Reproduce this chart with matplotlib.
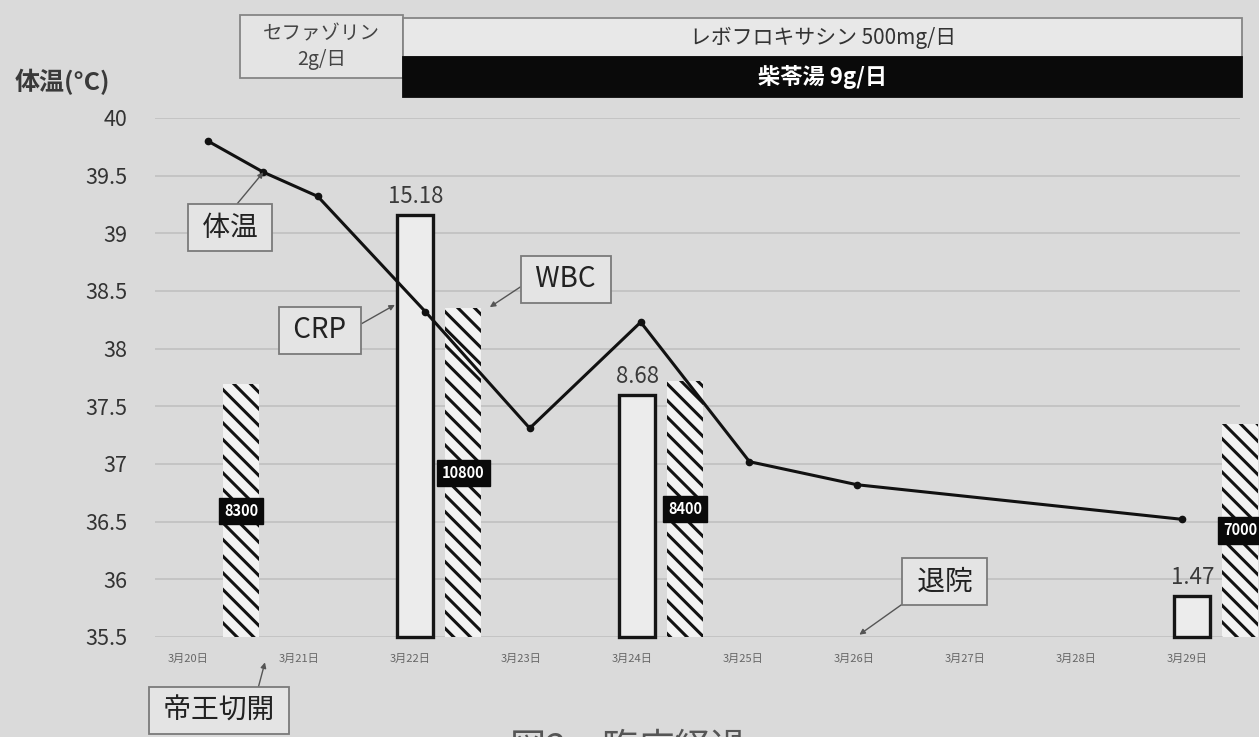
# =============================================================================
# plot.py — 臨床経過 (体温 / CRP / WBC) recreation
# =============================================================================

import matplotlib
matplotlib.use("Agg")
import matplotlib.pyplot as plt
from matplotlib.patches import Rectangle
from matplotlib.transforms import blended_transform_factory

plt.rcParams["font.family"] = ["Noto Sans CJK JP", "DejaVu Sans"]
plt.rcParams["hatch.linewidth"] = 2.2
plt.rcParams["hatch.color"] = "#111111"

# ─── Data ────────────────────────────────────────────────────────────────────

dates = ["3月20日", "3月21日", "3月22日", "3月23日", "3月24日",
         "3月25日", "3月26日", "3月27日", "3月28日", "3月29日"]

# body temperature (day index from 3/20, °C)
temp_day = [0.18, 0.68, 1.17, 2.14, 3.08, 4.08, 5.06, 6.03, 8.96]
temp_c = [39.8, 39.53, 39.32, 38.32, 37.31, 38.23, 37.02, 36.82, 36.52]

crp_day = [2, 4, 9]
crp = [15.18, 8.68, 1.47]

wbc_day = [0, 2, 4, 9]
wbc = [8300, 10800, 8400, 7000]

temp_ticks = [35.5, 36, 36.5, 37, 37.5, 38, 38.5, 39, 39.5, 40]
temp_tick_labels = ["35.5", "36", "36.5", "37", "37.5", "38", "38.5", "39", "39.5", "40"]

drug_labels = ["セファゾリン\n2g/日", "レボフロキサシン 500mg/日", "柴苓湯 9g/日"]
drug_start = [0.47, 1.94, 1.94]
drug_end = [1.94, 9.5, 9.5]

BG = "#dadada"
BAR_W = 0.325

# ─── Figure / axes ───────────────────────────────────────────────────────────

fig = plt.figure(figsize=(12.59, 7.37), dpi=100)
fig.patch.set_facecolor(BG)

ax = fig.add_axes([0.1231, 0.1357, 0.8618, 0.7042])
ax.set_facecolor(BG)
ax.set_xlim(-0.297, 9.48)
ax.set_ylim(35.5, 40)
ax.set_yticks(temp_ticks)
ax.set_yticklabels(temp_tick_labels, fontsize=15.5, color="#333333")
ax.set_xticks(range(len(dates)))
ax.set_xticklabels(dates, fontsize=8, color="#666666")
ax.tick_params(axis="y", length=0, pad=20)
ax.tick_params(axis="x", length=0, pad=12)
ax.grid(axis="y", color="#c2c2c2", linewidth=1.3)
ax.set_axisbelow(True)
for spine in ax.spines.values():
    spine.set_visible(False)

# CRP and WBC have their own hidden scales
ax_crp = ax.twinx()
ax_crp.set_ylim(0, 18.65)
ax_crp.axis("off")

ax_wbc = ax.twinx()
ax_wbc.set_ylim(0, 17050)
ax_wbc.axis("off")

ax_t = ax.twinx()
ax_t.set_ylim(35.5, 40)
ax_t.axis("off")

# ─── CRP bars (hollow) ───────────────────────────────────────────────────────

crp_x = [d + 0.05 for d in crp_day]
ax_crp.bar(crp_x, crp, width=BAR_W, facecolor="#ececec",
           edgecolor="#151515", linewidth=2.4, clip_on=False)
for x, v in zip(crp_x, crp):
    ax_crp.annotate(f"{v:.2f}", (x, v), xytext=(0, 5), textcoords="offset points",
                    ha="center", va="bottom", fontsize=16, color="#3a3a3a")

# ─── WBC bars (hatched) ──────────────────────────────────────────────────────

wbc_x = [d + 0.48 for d in wbc_day]
ax_wbc.bar(wbc_x, wbc, width=BAR_W, facecolor="#f2f2f2",
           edgecolor="#111111", linewidth=0, hatch="\\\\", clip_on=False)
for x, v in zip(wbc_x, wbc):
    ax_wbc.text(x, v / 2, str(v), ha="center", va="center", fontsize=10.5,
                fontweight="bold", color="white", clip_on=False,
                bbox=dict(boxstyle="square,pad=0.35", facecolor="#0a0a0a",
                          edgecolor="#0a0a0a"))

# ─── Temperature line ────────────────────────────────────────────────────────

ax_t.plot(temp_day, temp_c, color="#111111", linewidth=2.2,
          marker="o", markersize=4.5, zorder=5)

# ─── Callout labels ──────────────────────────────────────────────────────────

def _callout(text, xy, xytext, relpos):
    ax_t.annotate(
        text, xy=xy, xytext=xytext, xycoords="data", textcoords="data",
        ha="center", va="center", fontsize=20, color="#222222",
        annotation_clip=False, zorder=6,
        bbox=dict(boxstyle="square,pad=0.3", facecolor="#e4e4e4",
                  edgecolor="#7a7a7a", linewidth=1.3),
        arrowprops=dict(arrowstyle="-|>", color="#555555", lw=1.0,
                        mutation_scale=8, shrinkA=0, shrinkB=0, relpos=relpos),
    )

_callout(" 体温 ", (temp_day[1], temp_c[1]), (0.378, 39.05), (0.5, 1.0))
_callout(" CRP ", (1.865, 38.38), (1.19, 38.16), (1.0, 0.55))
_callout(" WBC ", (2.72, 38.36), (3.405, 38.6), (0.0, 0.45))
_callout(" 退院 ", (6.05, 35.52), (6.82, 35.98), (0.03, 0.0))
_callout(" 帝王切開 ", (0.694, 35.28), (0.28, 34.86), (0.8, 1.0))

# ─── Drug regimen bars at the top ────────────────────────────────────────────

trans = blended_transform_factory(ax.transData, fig.transFigure)
drug_rows = [(0.894, 0.0856), (0.9227, 0.0529), (0.868, 0.0547)]
drug_face = ["#e4e4e4", "#e8e8e8", "#0a0a0a"]
drug_edge = ["#858585", "#858585", "#0a0a0a"]
drug_text = ["#444444", "#333333", "white"]
drug_size = [14, 15, 16]
drug_weight = ["normal", "normal", "bold"]

for i, label in enumerate(drug_labels):
    y0, h = drug_rows[i]
    fig.patches.append(Rectangle((drug_start[i], y0), drug_end[i] - drug_start[i], h,
                                 transform=trans, facecolor=drug_face[i],
                                 edgecolor=drug_edge[i], linewidth=1.3))
    fig.text((drug_start[i] + drug_end[i]) / 2, y0 + h / 2, label, transform=trans,
             ha="center", va="center", fontsize=drug_size[i], color=drug_text[i],
             fontweight=drug_weight[i], linespacing=1.3)

# ─── Axis title and caption (caption is cut by the page edge, as in the photo)

fig.text(0.012, 1 - 82 / 737, "体温(°C)", ha="left", va="center",
         fontsize=18, fontweight="bold", color="#3a3a3a")
fig.text(0.405, 1 - 731 / 737, "図2　臨床経過", ha="left", va="top",
         fontsize=26, color="#555555")

fig.savefig("out.png", dpi=100, facecolor=fig.get_facecolor())
plt.close(fig)
